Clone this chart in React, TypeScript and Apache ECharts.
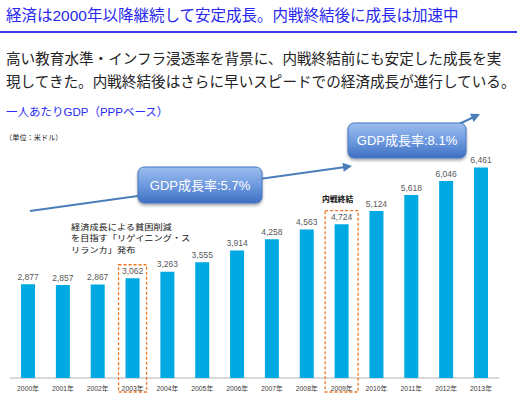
import React, { useEffect, useRef } from "react";
import * as echarts from "echarts";

const years = ["2000年", "2001年", "2002年", "2003年", "2004年", "2005年", "2006年", "2007年", "2008年", "2009年", "2010年", "2011年", "2012年", "2013年"];
const gdpPerCapita = [2877, 2857, 2867, 3062, 3263, 3555, 3914, 4258, 4563, 4724, 5124, 5618, 6046, 6461];
const titleText = "経済は2000年以降継続して安定成長。内戦終結後に成長は加速中";
const bodyLines = [
  "高い教育水準・インフラ浸透率を背景に、内戦終結前にも安定した成長を実",
  "現してきた。内戦終結後はさらに早いスピードでの経済成長が進行している。",
];
const subTitle = "一人あたりGDP（PPPベース）";
const unitText = "（単位：米ドル）";
const growthLabels = ["GDP成長率:5.7%", "GDP成長率:8.1%"];
const noteRelaunch = ["経済成長による貧困削減", "を目指す「リゲイニング・ス", "リランカ」発布"];
const noteWarEnd = "内戦終結";
const highlightYears = ["2003年", "2009年"];

const JP = "'Noto Sans CJK JP', sans-serif";
const MIX = "'Liberation Sans', 'Noto Sans CJK JP', sans-serif";

function arrowHead(tip: number[], from: number[], len: number, half: number) {
  const dx = tip[0] - from[0];
  const dy = tip[1] - from[1];
  const l = Math.sqrt(dx * dx + dy * dy);
  const ux = dx / l, uy = dy / l;
  const bx = tip[0] - ux * len, by = tip[1] - uy * len;
  const px = -uy * half, py = ux * half;
  return [tip, [bx + px, by + py], [bx - px, by - py]];
}

function growthBox(x: number, y: number, w: number, h: number, text: string) {
  return {
    type: "group",
    children: [
      {
        type: "rect",
        shape: { x, y, width: w, height: h, r: 6 },
        style: {
          fill: new echarts.graphic.LinearGradient(0, 0, 0, 1, [
            { offset: 0, color: "#9dbdee" },
            { offset: 0.5, color: "#6f9be0" },
            { offset: 1, color: "#3e6fc2" },
          ]),
          stroke: "#4675c0",
          lineWidth: 1,
          shadowBlur: 3,
          shadowColor: "rgba(0,0,0,0.35)",
          shadowOffsetY: 2,
        },
      },
      {
        type: "text",
        style: {
          text,
          x: x + w / 2,
          y: y + h / 2,
          align: "center",
          verticalAlign: "middle",
          fill: "#ffffff",
          font: `13px ${MIX}`,
        },
      },
    ],
  };
}

export default function App() {
  const ref = useRef<HTMLDivElement>(null);
  useEffect(() => {
    if (!ref.current) return;
    const chart = echarts.init(ref.current, null, { renderer: "svg" });
    const option: any = {
      animation: false,
      backgroundColor: "#ffffff",
      grid: { left: 10.6, right: 21.6, top: 150, bottom: 19, containLabel: false },
      xAxis: {
        type: "category",
        data: years,
        axisLine: { lineStyle: { color: "#d9d9d9", width: 2 } },
        axisTick: { show: false },
        axisLabel: { color: "#404040", fontSize: 6.8, fontFamily: MIX, margin: 7 },
      },
      yAxis: {
        type: "value",
        min: 0,
        max: 7000,
        show: false,
        splitLine: { show: false },
      },
      series: [
        {
          type: "bar",
          data: gdpPerCapita,
          barWidth: 14,
          itemStyle: { color: "#00a9e2" },
          label: {
            show: true,
            position: "top",
            distance: 3,
            color: "#595959",
            fontSize: 8.5,
            fontFamily: MIX,
            formatter: (p: any) => Number(p.value).toLocaleString("en-US"),
          },
          z: 3,
        },
      ],
    };
    chart.setOption(option);

    const boxes: any[] = highlightYears.map((yr, i) => {
      const idx = years.indexOf(yr);
      const cx = chart.convertToPixel({ xAxisIndex: 0 }, yr) as number;
      const topY = chart.convertToPixel({ yAxisIndex: 0 }, gdpPerCapita[idx]) as number;
      const w = i === 0 ? 28 : 33;
      const top = topY - 13.5;
      return {
        type: "rect",
        shape: { x: cx - w / 2, y: top, width: w, height: 392 - top },
        style: { fill: "none", stroke: "#f07722", lineWidth: 1.3, lineDash: [3, 2] },
        z: 10,
      };
    });

    const l1a = [30, 211], l1b = [352, 166];
    const l2a = [440, 133], l2b = [480, 114];

    const graphic: any[] = [
      {
        type: "text",
        style: { text: titleText, x: 6, y: 15, verticalAlign: "middle", fill: "#2828f0", font: `15.5px ${MIX}` },
      },
      { type: "line", shape: { x1: 0, y1: 32, x2: 517, y2: 32 }, style: { stroke: "#3a3af0", lineWidth: 2 } },
      {
        type: "text",
        style: { text: bodyLines[0], x: 6, y: 57.5, verticalAlign: "middle", fill: "#222222", font: `14.6px ${JP}` },
      },
      {
        type: "text",
        style: { text: bodyLines[1], x: 6, y: 80.5, verticalAlign: "middle", fill: "#222222", font: `14.6px ${JP}` },
      },
      {
        type: "text",
        style: { text: subTitle, x: 6, y: 112, verticalAlign: "middle", fill: "#2a2af5", font: `11.5px ${MIX}` },
      },
      {
        type: "text",
        style: { text: unitText, x: 5, y: 137, verticalAlign: "middle", fill: "#222222", font: `7.2px ${JP}` },
      },
      { type: "line", shape: { x1: l1a[0], y1: l1a[1], x2: l1b[0] - 3, y2: l1b[1] + 0.4 }, style: { stroke: "#4a7ebb", lineWidth: 2 } },
      { type: "polygon", shape: { points: arrowHead(l1b, l1a, 9, 4.5) }, style: { fill: "#4a7ebb" } },
      { type: "line", shape: { x1: l2a[0], y1: l2a[1], x2: l2b[0] - 3, y2: l2b[1] + 1.5 }, style: { stroke: "#4a7ebb", lineWidth: 2 } },
      { type: "polygon", shape: { points: arrowHead(l2b, l2a, 9, 4.5) }, style: { fill: "#4a7ebb" } },
      growthBox(138, 167, 124, 36, growthLabels[0]),
      growthBox(348, 123, 118, 35, growthLabels[1]),
      ...noteRelaunch.map((t, i) => ({
        type: "text",
        x: 71,
        y: 226 + i * 11.7,
        scaleX: 1.15,
        style: { text: t, x: 0, y: 0, verticalAlign: "middle", fill: "#111111", font: `8px ${JP}` },
      })),
      {
        type: "text",
        style: { text: noteWarEnd, x: 322, y: 198, verticalAlign: "middle", fill: "#111111", font: `bold 7.8px ${JP}` },
      },
      ...boxes,
    ];
    chart.setOption({ graphic });
    return () => chart.dispose();
  }, []);
  return <div ref={ref} style={{ position: "fixed", left: 0, top: 0, width: 520, height: 397 }} />;
}
